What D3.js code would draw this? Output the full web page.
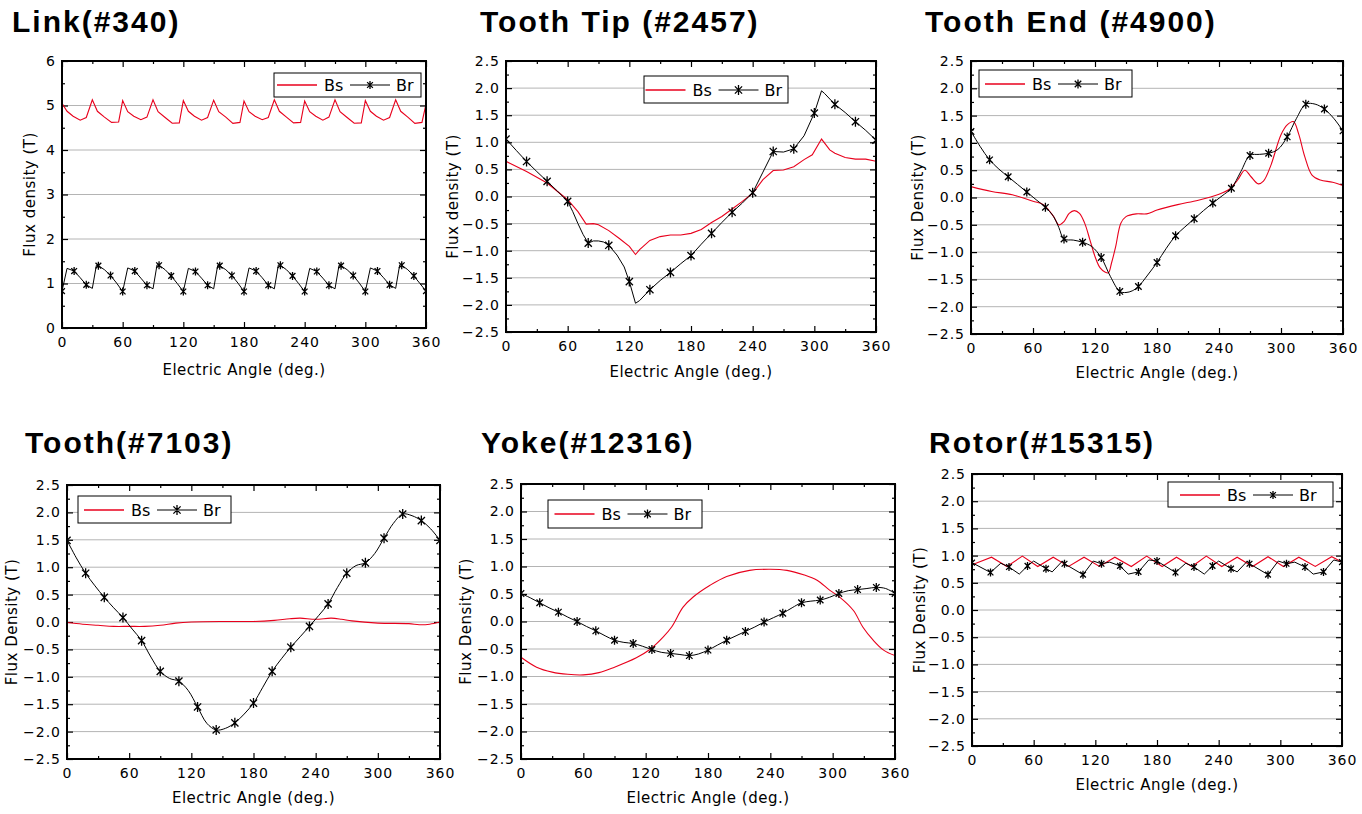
<!DOCTYPE html>
<html><head><meta charset="utf-8">
<script src="https://cdn.jsdelivr.net/npm/d3@7"></script>
<style>body{margin:0;background:#fff} svg{display:block}</style>
</head><body>
<svg id="c" width="1362" height="814"></svg>
<script>
// ---------------- DATA ----------------
const angleTicks = [0, 60, 120, 180, 240, 300, 360];
const linkTicks = [0, 1, 2, 3, 4, 5, 6];
const fluxTicks = [-2.5, -2.0, -1.5, -1.0, -0.5, 0.0, 0.5, 1.0, 1.5, 2.0, 2.5];
const seriesNames = ["Bs", "Br"];
const panelTitles = ["Link(#340)", "Tooth Tip (#2457)", "Tooth End (#4900)", "Tooth(#7103)", "Yoke(#12316)", "Rotor(#15315)"];
const yLabels = ["Flux density (T)", "Flux density (T)", "Flux Density (T)", "Flux Density (T)", "Flux Density (T)", "Flux Density (T)"];
const xLabel = "Electric Angle (deg.)";

// Link (#340)
const linkBsAngle = [0,5,11,18,24, 30,35,42,49,56, 60,65,71,78,84, 90,95,102,109,116, 120,125,131,138,144, 150,155,162,169,176, 180,185,191,198,204, 210,215,222,229,236, 240,245,251,258,264, 270,275,282,289,296, 300,305,311,318,324, 330,335,342,349,356, 360];
const linkBsValue = [5.05,4.87,4.76,4.67,4.73, 5.13,4.87,4.74,4.62,4.63, 5.11,4.86,4.76,4.68,4.74, 5.13,4.86,4.73,4.60,4.61, 5.11,4.87,4.76,4.67,4.73, 5.12,4.86,4.74,4.60,4.62, 5.10,4.86,4.76,4.68,4.73, 5.13,4.87,4.74,4.61,4.62, 5.10,4.86,4.76,4.67,4.74, 5.13,4.86,4.73,4.60,4.61, 5.11,4.87,4.76,4.67,4.73, 5.13,4.87,4.74,4.60,4.62, 5.03];
const linkBrAngle = [0,5,12,18,24,30,34,36,42,48,54, 60,65,72,78,84,90,94,96,102,108,114, 120,125,132,138,144,150,154,156,162,168,174, 180,185,192,198,204,210,214,216,222,228,234, 240,245,252,258,264,270,274,276,282,288,294, 300,305,312,318,324,330,334,336,342,348,354, 360];
const linkBrValue = [0.83,1.34,1.28,1.13,0.97,0.89,1.41,1.40,1.31,1.18,1.01, 0.82,1.35,1.28,1.12,0.96,0.88,1.42,1.41,1.31,1.17,1.00, 0.82,1.34,1.27,1.12,0.96,0.88,1.41,1.40,1.31,1.18,1.01, 0.82,1.35,1.28,1.13,0.96,0.88,1.42,1.41,1.31,1.17,1.00, 0.82,1.34,1.27,1.12,0.96,0.88,1.41,1.40,1.31,1.18,1.01, 0.82,1.35,1.28,1.13,0.97,0.89,1.42,1.41,1.31,1.17,1.00, 0.83];

// Tooth Tip (#2457)
const tipBsAngle = [0,20,40,60,70,78,85,90,100,110,120,126,130,140,150,160,170,180,190,200,210,220,230,240,250,260,270,280,290,298,307,315,320,330,340,350,360];
const tipBsValue = [0.65,0.46,0.25,-0.06,-0.28,-0.51,-0.50,-0.52,-0.63,-0.77,-0.92,-1.07,-0.98,-0.81,-0.74,-0.71,-0.71,-0.68,-0.61,-0.48,-0.37,-0.23,-0.09,0.06,0.31,0.48,0.49,0.55,0.68,0.77,1.06,0.86,0.80,0.72,0.69,0.69,0.65];
const tipBrAngle = [0,10,20,30,40,50,60,65,70,75,80,85,90,95,100,108,115,120,126,130,140,150,160,170,180,190,200,210,220,230,240,250,260,270,280,290,300,307,310,320,330,340,350,360];
const tipBrValue = [1.06,0.85,0.645,0.46,0.28,0.10,-0.09,-0.28,-0.50,-0.70,-0.86,-0.82,-0.82,-0.84,-0.90,-1.08,-1.30,-1.57,-1.97,-1.92,-1.72,-1.55,-1.40,-1.24,-1.09,-0.88,-0.68,-0.48,-0.29,-0.12,0.07,0.45,0.83,0.82,0.88,1.12,1.54,1.95,1.90,1.70,1.55,1.38,1.22,1.04];

// Tooth End (#4900)
const endBsAngle = [0,20,40,60,70,80,85,90,95,100,105,110,115,120,125,130,133,136,140,145,150,160,170,180,200,220,240,250,258,265,271,278,283,290,300,306,312,317,323,330,338,350,360];
const endBsValue = [0.20,0.11,0.05,-0.07,-0.13,-0.35,-0.50,-0.44,-0.29,-0.24,-0.29,-0.47,-0.77,-1.08,-1.29,-1.37,-1.38,-1.20,-0.90,-0.47,-0.35,-0.30,-0.30,-0.23,-0.13,-0.05,0.06,0.15,0.32,0.50,0.38,0.25,0.30,0.58,1.15,1.33,1.39,1.17,0.75,0.41,0.32,0.28,0.22];
const endBrAngle = [0,9,18,27,36,45,54,63,72,80,85,90,99,108,117,126,135,144,150,156,162,171,180,189,198,207,216,225,234,243,252,261,270,279,288,297,306,315,324,333,342,351,360];
const endBrValue = [1.21,0.93,0.69,0.52,0.38,0.24,0.10,-0.04,-0.18,-0.35,-0.55,-0.76,-0.78,-0.82,-0.90,-1.10,-1.45,-1.72,-1.74,-1.71,-1.63,-1.42,-1.19,-0.93,-0.70,-0.54,-0.39,-0.24,-0.10,0.03,0.17,0.47,0.77,0.79,0.81,0.88,1.11,1.45,1.71,1.71,1.62,1.45,1.22];

// Tooth (#7103)
const toothBsAngle = [0,15,30,45,60,75,90,105,120,150,180,200,215,225,240,255,265,275,300,330,340,350,360];
const toothBsValue = [-0.01,-0.04,-0.06,-0.08,-0.08,-0.08,-0.06,-0.02,0.00,0.01,0.01,0.03,0.06,0.07,0.05,0.07,0.05,0.02,-0.02,-0.03,-0.05,-0.04,0.00];
const toothBrAngle = [0,9,18,27,36,45,54,63,72,81,90,99,108,117,126,135,144,153,162,171,180,189,198,207,216,225,234,243,252,261,270,279,288,297,306,315,324,333,342,351,360];
const toothBrValue = [1.49,1.17,0.89,0.66,0.45,0.26,0.08,-0.13,-0.34,-0.64,-0.90,-1.03,-1.08,-1.25,-1.55,-1.85,-1.97,-1.94,-1.84,-1.68,-1.48,-1.19,-0.90,-0.67,-0.46,-0.27,-0.08,0.12,0.33,0.63,0.89,1.03,1.08,1.25,1.53,1.80,1.97,1.94,1.85,1.70,1.49];

// Yoke (#12316)
const yokeBsAngle = [0,15,30,45,60,75,90,111,124,137,145,156,166,182,198,220,240,256,272,285,297,307,320,329,339,349,360];
const yokeBsValue = [-0.65,-0.83,-0.92,-0.96,-0.97,-0.93,-0.83,-0.66,-0.51,-0.28,-0.10,0.26,0.45,0.66,0.82,0.93,0.95,0.93,0.85,0.75,0.57,0.44,0.20,-0.10,-0.34,-0.52,-0.62];
const yokeBrAngle = [0,9,18,27,36,45,54,63,72,81,90,99,108,117,126,135,144,153,162,171,180,189,198,207,216,225,234,243,252,261,270,279,288,297,306,315,324,333,342,351,360];
const yokeBrValue = [0.51,0.43,0.34,0.25,0.17,0.08,0.00,-0.09,-0.17,-0.26,-0.34,-0.38,-0.40,-0.45,-0.51,-0.56,-0.58,-0.60,-0.62,-0.59,-0.52,-0.43,-0.34,-0.26,-0.18,-0.10,-0.01,0.07,0.15,0.25,0.34,0.37,0.39,0.44,0.51,0.56,0.58,0.60,0.62,0.60,0.51];

// Rotor (#15315)
const rotorBsAngle = [0,19,34,49,64,79,94,109,124,139,155,170,185,199,214,228,243,258,273,288,303,318,334,350,360];
const rotorBsValue = [0.83,0.97,0.80,0.99,0.80,0.97,0.80,0.97,0.80,0.97,0.80,0.99,0.80,0.97,0.80,0.99,0.80,0.97,0.80,0.98,0.80,0.97,0.80,0.98,0.88];
const rotorBrAngle = [0,18,28,36,46,54,60,72,78,88,90,108,118,126,134,144,152,162,172,180,198,208,216,226,234,240,252,258,268,270,288,298,306,314,324,332,342,352,360];
const rotorBrValue = [0.87,0.69,0.86,0.79,0.66,0.81,0.90,0.76,0.70,0.90,0.85,0.65,0.90,0.85,0.88,0.81,0.66,0.70,0.92,0.90,0.69,0.86,0.79,0.66,0.81,0.90,0.76,0.70,0.90,0.85,0.65,0.90,0.85,0.88,0.79,0.66,0.70,0.92,0.88];

// ---------------- LAYOUT ----------------
const zip = (a, v) => a.map((d, i) => ({a: d, v: v[i]}));
const panels = [
  {box:{l:62,r:426,t:61,b:328}, yTicks:linkTicks, fmt:d3.format("d"), minorStep:0.5, title:[12,32], ylx:30, xlb:375,
   leg:{x:274,y:73,w:147,h:24}, bs:zip(linkBsAngle,linkBsValue), br:zip(linkBrAngle,linkBrValue), mstep:12, smooth:false, mr:4},
  {box:{l:506,r:876,t:61,b:332}, yTicks:fluxTicks, fmt:d3.format(".1f"), minorStep:0.25, title:[480,32], ylx:452.5, xlb:377,
   leg:{x:644,y:76,w:144,h:27}, bs:zip(tipBsAngle,tipBsValue), br:zip(tipBrAngle,tipBrValue), mstep:20, smooth:false, mr:5},
  {box:{l:971,r:1343,t:61,b:334}, yTicks:fluxTicks, fmt:d3.format(".1f"), minorStep:0.25, title:[925,32], ylx:917.5, xlb:378,
   leg:{x:979,y:70,w:153,h:27}, bs:zip(endBsAngle,endBsValue), br:zip(endBrAngle,endBrValue), mstep:18, smooth:true, mr:4.5},
  {box:{l:67,r:440,t:485,b:759}, yTicks:fluxTicks, fmt:d3.format(".1f"), minorStep:0.25, title:[25,453], ylx:12, xlb:803,
   leg:{x:78,y:496,w:153,h:27}, bs:zip(toothBsAngle,toothBsValue), br:zip(toothBrAngle,toothBrValue), mstep:18, smooth:true, mr:5},
  {box:{l:521,r:895,t:484,b:759}, yTicks:fluxTicks, fmt:d3.format(".1f"), minorStep:0.25, title:[481,453], ylx:466, xlb:803,
   leg:{x:548,y:500,w:154,h:28}, bs:zip(yokeBsAngle,yokeBsValue), br:zip(yokeBrAngle,yokeBrValue), mstep:18, smooth:true, mr:4.5},
  {box:{l:972,r:1342,t:474,b:746}, yTicks:fluxTicks, fmt:d3.format(".1f"), minorStep:0.25, title:[929,453], ylx:919.5, xlb:790,
   leg:{x:1168,y:482,w:165,h:25}, bs:zip(rotorBsAngle,rotorBsValue), br:zip(rotorBrAngle,rotorBrValue), mstep:18, smooth:false, mr:4}
];

const RED = "#e8001c";
const svg = d3.select("#c");
const tickFont = "'DejaVu Sans', sans-serif";

function star(r) {
  const a = r * 0.72;
  return `M0,${-r}L0,${r}M${-a},${-a}L${a},${a}M${-a},${a}L${a},${-a}`;
}

panels.forEach((p, i) => {
  const B = p.box;
  const g = svg.append("g");
  const yd = [p.yTicks[0], p.yTicks[p.yTicks.length - 1]];
  const x = d3.scaleLinear().domain([0, 360]).range([B.l, B.r]);
  const y = d3.scaleLinear().domain(yd).range([B.b, B.t]);

  // title
  g.append("text").attr("x", p.title[0]).attr("y", p.title[1])
    .attr("font-family", "'Liberation Sans', Arial, sans-serif").attr("font-weight", "bold")
    .attr("font-size", 30).attr("letter-spacing", "2px").attr("fill", "#000").text(panelTitles[i]);

  // gridlines
  g.append("g").selectAll("line").data(p.yTicks.slice(1, -1)).join("line")
    .attr("x1", B.l).attr("x2", B.r).attr("y1", d => y(d)).attr("y2", d => y(d))
    .attr("stroke", "#b4b4b4").attr("stroke-width", 1);

  const minorY = d3.range(yd[0], yd[1] + 1e-9, p.minorStep).filter(v => !p.yTicks.some(t => Math.abs(t - v) < 1e-9));
  const minorX = d3.range(30, 360, 60);

  const styleAxis = sel => { sel.select(".domain").remove(); sel.selectAll("line").attr("stroke", "#000").attr("stroke-width", 1.2); };
  const styleText = s => s.selectAll("text").attr("font-family", tickFont).attr("font-size", 14).attr("letter-spacing", "1px").attr("fill", "#000");

  g.append("g").attr("transform", `translate(0,${B.b})`)
    .call(d3.axisBottom(x).tickValues(angleTicks).tickSize(-6).tickPadding(9).tickFormat(d3.format("d")))
    .call(styleAxis).call(styleText);
  g.append("g").attr("transform", `translate(0,${B.b})`)
    .call(d3.axisBottom(x).tickValues(minorX).tickSize(-3).tickFormat("")).call(styleAxis);
  g.append("g").attr("transform", `translate(0,${B.t})`)
    .call(d3.axisTop(x).tickValues(angleTicks).tickSize(-6).tickFormat("")).call(styleAxis);
  g.append("g").attr("transform", `translate(0,${B.t})`)
    .call(d3.axisTop(x).tickValues(minorX).tickSize(-3).tickFormat("")).call(styleAxis);
  g.append("g").attr("transform", `translate(${B.l},0)`)
    .call(d3.axisLeft(y).tickValues(p.yTicks).tickSize(-6).tickPadding(6).tickFormat(p.fmt))
    .call(styleAxis).call(styleText);
  g.append("g").attr("transform", `translate(${B.l},0)`)
    .call(d3.axisLeft(y).tickValues(minorY).tickSize(-3).tickFormat("")).call(styleAxis);
  g.append("g").attr("transform", `translate(${B.r},0)`)
    .call(d3.axisRight(y).tickValues(p.yTicks).tickSize(-6).tickFormat("")).call(styleAxis);
  g.append("g").attr("transform", `translate(${B.r},0)`)
    .call(d3.axisRight(y).tickValues(minorY).tickSize(-3).tickFormat("")).call(styleAxis);

  const cid = "clip" + i;
  svg.append("defs").append("clipPath").attr("id", cid)
    .append("rect").attr("x", B.l).attr("y", B.t).attr("width", B.r - B.l).attr("height", B.b - B.t);
  const plot = g.append("g").attr("clip-path", `url(#${cid})`);

  const line = d3.line().x(d => x(d.a)).y(d => y(d.v))
    .curve(p.smooth ? d3.curveCatmullRom.alpha(0.5) : d3.curveLinear);

  plot.append("path").datum(p.bs).attr("d", line).attr("fill", "none").attr("stroke", RED).attr("stroke-width", 1.1);
  plot.append("path").datum(p.br).attr("d", line).attr("fill", "none").attr("stroke", "#000").attr("stroke-width", 1);
  plot.append("g").selectAll("path").data(p.br.filter(d => d.a % p.mstep === 0)).join("path")
    .attr("transform", d => `translate(${x(d.a)},${y(d.v)})`)
    .attr("d", star(p.mr)).attr("stroke", "#000").attr("stroke-width", 1.3).attr("fill", "none");

  g.append("rect").attr("x", B.l).attr("y", B.t).attr("width", B.r - B.l).attr("height", B.b - B.t)
    .attr("fill", "none").attr("stroke", "#000").attr("stroke-width", 2);

  g.append("text").attr("x", (B.l + B.r) / 2).attr("y", p.xlb).attr("text-anchor", "middle")
    .attr("font-family", tickFont).attr("font-size", 15).attr("letter-spacing", "0.5px").attr("fill", "#000").text(xLabel);
  g.append("text").attr("transform", `translate(${p.ylx},${(B.t + B.b) / 2}) rotate(-90)`)
    .attr("text-anchor", "middle").attr("dominant-baseline", "central")
    .attr("font-family", tickFont).attr("font-size", 15).attr("letter-spacing", "0.5px").attr("fill", "#000").text(yLabels[i]);

  // legend
  const L = p.leg;
  const pad = (L.w - 141) / 2;
  const cy = Math.round(L.y + L.h / 2);
  const lg = g.append("g");
  lg.append("rect").attr("x", L.x).attr("y", L.y).attr("width", L.w).attr("height", L.h)
    .attr("fill", "#fff").attr("stroke", "#000").attr("stroke-width", 1);
  lg.append("path").attr("d", `M${L.x + pad},${cy}H${L.x + pad + 40}`)
    .attr("stroke", RED).attr("stroke-width", 1.4).attr("fill", "none");
  lg.append("text").attr("x", L.x + pad + 47).attr("y", cy + 6).attr("font-family", tickFont)
    .attr("font-size", 16).attr("fill", "#000").text(seriesNames[0]);
  lg.append("path").attr("d", `M${L.x + pad + 73},${cy}H${L.x + pad + 113}`)
    .attr("stroke", "#000").attr("stroke-width", 1).attr("fill", "none");
  lg.append("path").attr("transform", `translate(${L.x + pad + 93},${cy})`).attr("d", star(p.mr))
    .attr("stroke", "#000").attr("stroke-width", 1.3).attr("fill", "none");
  lg.append("text").attr("x", L.x + pad + 119).attr("y", cy + 6).attr("font-family", tickFont)
    .attr("font-size", 16).attr("fill", "#000").text(seriesNames[1]);
});
</script>
</body></html>
